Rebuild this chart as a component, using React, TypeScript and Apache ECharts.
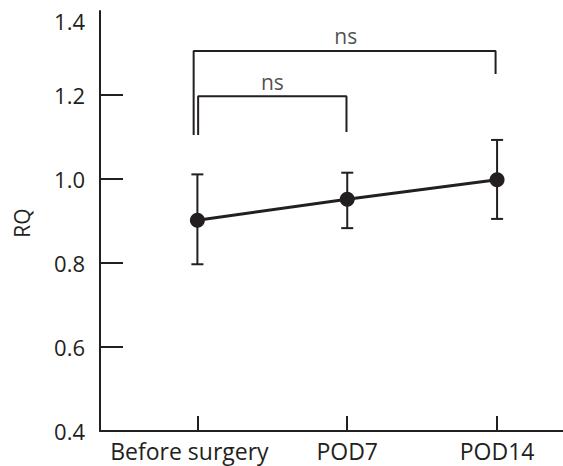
import React, { useEffect, useRef } from "react";
import * as echarts from "echarts";

const categories = ["Before surgery", "POD7", "POD14"];
const xPositions = [0, 1, 2];
const meanValues = [0.902, 0.952, 0.998];
const lowerValues = [0.797, 0.883, 0.905];
const upperValues = [1.011, 1.015, 1.093];
const yTopLabel = "1.4";
// significance brackets: [x, y] points
const bracketOuter = [[-0.025, 1.105], [-0.025, 1.305], [1.99, 1.305], [1.99, 1.25]];
const bracketInner = [[0.005, 1.105], [0.005, 1.197], [0.995, 1.197], [0.995, 1.112]];
const sigLabels = [
  { x: 0.99, y: 1.305, text: "ns" },
  { x: 0.5, y: 1.197, text: "ns" },
];

const INK = "#231f20";
const FONT = "Open Sans";

export default function App() {
  const ref = useRef<HTMLDivElement>(null);
  useEffect(() => {
    if (!ref.current) return;
    const chart = echarts.init(ref.current, undefined, { renderer: "svg" });
    const errData = xPositions.map((x, i) => [x, lowerValues[i], upperValues[i]]);
    chart.setOption({
      animation: false,
      backgroundColor: "#ffffff",
      grid: { left: 100, right: 0, top: 11, bottom: 35 },
      xAxis: {
        type: "value",
        min: -0.65,
        max: 2.44,
        splitLine: { show: false },
        axisLine: { show: true, onZero: false, lineStyle: { color: INK, width: 2 } },
        axisTick: {
          show: true,
          inside: true,
          length: 15,
          customValues: xPositions,
          lineStyle: { color: INK, width: 2 },
        },
        axisLabel: {
          show: true,
          customValues: xPositions,
          formatter: (v: number) => {
            const i = Math.round(v);
            return i === 0 ? `{first|${categories[0]}}` : categories[i] ?? "";
          },
          color: INK,
          fontSize: 23,
          fontFamily: FONT,
          margin: 8,
          rich: {
            first: { fontSize: 23, fontFamily: FONT, color: INK, padding: [0, 16, 0, 0] },
          },
        },
      },
      yAxis: {
        type: "value",
        min: 0.4,
        max: 1.4,
        interval: 0.2,
        splitLine: { show: false },
        axisLine: { show: true, onZero: false, lineStyle: { color: INK, width: 2 } },
        axisTick: { show: true, inside: true, length: 23, lineStyle: { color: INK, width: 2 } },
        axisLabel: {
          color: INK,
          fontSize: 22,
          fontFamily: FONT,
          margin: 15,
          showMaxLabel: false,
          formatter: (v: number) => v.toFixed(1),
        },
      },
      graphic: [
        {
          type: "text",
          x: 22,
          y: 223,
          rotation: Math.PI / 2,
          style: {
            text: "RQ",
            fill: INK,
            fontSize: 21,
            fontFamily: FONT,
            align: "center",
            verticalAlign: "middle",
          },
        },
        {
          type: "text",
          x: 85,
          y: 21,
          style: {
            text: yTopLabel,
            fill: INK,
            fontSize: 22,
            fontFamily: FONT,
            align: "right",
            verticalAlign: "middle",
          },
        },
      ],
      series: [
        {
          type: "custom",
          renderItem: (params: any, api: any) => {
            const x = api.value(0);
            const lo = api.coord([x, api.value(1)]);
            const hi = api.coord([x, api.value(2)]);
            const cw = 6;
            const st = { stroke: INK, lineWidth: 2 };
            return {
              type: "group",
              children: [
                { type: "line", shape: { x1: lo[0], y1: lo[1], x2: hi[0], y2: hi[1] }, style: st },
                { type: "line", shape: { x1: lo[0] - cw, y1: lo[1], x2: lo[0] + cw, y2: lo[1] }, style: st },
                { type: "line", shape: { x1: hi[0] - cw, y1: hi[1], x2: hi[0] + cw, y2: hi[1] }, style: st },
              ],
            };
          },
          data: errData,
          z: 2,
        },
        {
          type: "line",
          data: xPositions.map((x, i) => [x, meanValues[i]]),
          symbol: "circle",
          symbolSize: 15,
          itemStyle: { color: INK },
          lineStyle: { color: INK, width: 3 },
          z: 3,
        },
        {
          type: "line",
          data: bracketOuter,
          symbol: "none",
          lineStyle: { color: INK, width: 2 },
        },
        {
          type: "line",
          data: bracketInner,
          symbol: "none",
          lineStyle: { color: INK, width: 2 },
        },
        {
          type: "scatter",
          symbolSize: 0,
          data: sigLabels.map((s) => ({ value: [s.x, s.y], name: s.text })),
          label: {
            show: true,
            position: "top",
            distance: 4,
            formatter: (p: any) => p.name,
            color: INK,
            fontSize: 21,
            fontFamily: FONT,
          },
        },
      ],
    });
    return () => chart.dispose();
  }, []);
  return <div ref={ref} style={{ position: "fixed", left: 0, top: 0, width: 563, height: 466 }} />;
}
